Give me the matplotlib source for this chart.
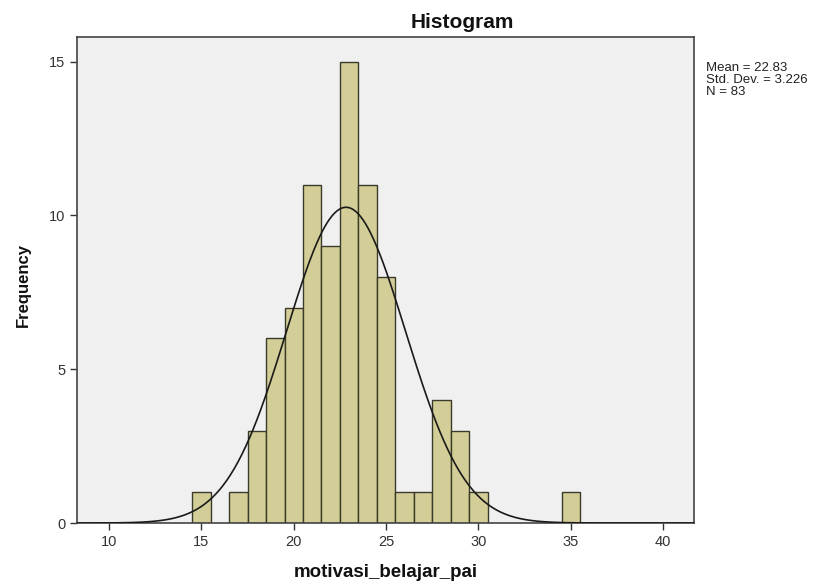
import numpy as np
import matplotlib
matplotlib.use("Agg")
import matplotlib.pyplot as plt

plt.rcParams['font.family'] = ['Liberation Sans', 'DejaVu Sans']

bin_centers = [15, 17, 18, 19, 20, 21, 22, 23, 24, 25, 26, 27, 28, 29, 30, 35]
counts = [1, 1, 3, 6, 7, 11, 9, 15, 11, 8, 1, 1, 4, 3, 1, 1]
mean_val = 22.83
std_val = 3.226
n_val = 83
x_ticks = [10, 15, 20, 25, 30, 35, 40]
y_ticks = [0, 5, 10, 15]

fig = plt.figure(figsize=(8.3, 5.81), dpi=100)
fig.patch.set_facecolor('white')
ax = fig.add_axes([0.0928, 0.0998, 0.7437, 0.8365])
ax.set_facecolor('#F0F0F0')

ax.bar(bin_centers, counts, width=1.0, color='#D3CE97', edgecolor='#3a3a2a', linewidth=1.0, zorder=2)

xs = np.linspace(8.3, 41.7, 500)
pdf = n_val * 1.0 / (std_val * np.sqrt(2 * np.pi)) * np.exp(-0.5 * ((xs - mean_val) / std_val) ** 2)
ax.plot(xs, pdf, color='#1a1a1a', linewidth=1.2, zorder=3)

ax.set_xlim(8.27, 41.68)
ax.set_ylim(0, 15.8)
ax.set_xticks(x_ticks)
ax.set_yticks(y_ticks)
ax.tick_params(axis='both', direction='out', length=5, width=1, color='#333333', labelsize=10.5, labelcolor='#333333')
for s in ax.spines.values():
    s.set_color('#444444')
    s.set_linewidth(1.2)

fig.text(0.5566, 0.962, 'Histogram', ha='center', va='center', fontsize=15, fontweight='bold', color='#111111')
ax.set_xlabel('motivasi_belajar_pai', fontsize=13.5, fontweight='bold', color='#111111', labelpad=11)
fig.text(0.028, 0.509, 'Frequency', rotation=90, ha='center', va='center', fontsize=12, fontweight='bold', color='#111111')

fig.text(0.850, 0.893, 'Mean = %.2f\nStd. Dev. = %.3f\nN = %d' % (mean_val, std_val, n_val),
         ha='left', va='top', fontsize=9.5, color='#222222', linespacing=1.0)

fig.savefig('out.png', dpi=100)
